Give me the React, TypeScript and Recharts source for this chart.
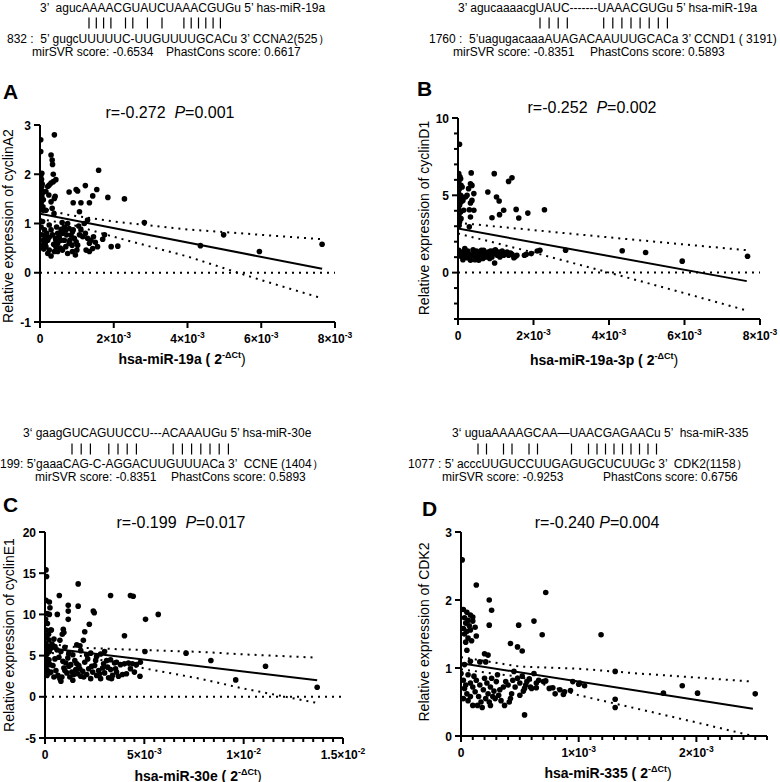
import React from 'react';
import { ScatterChart, Scatter, XAxis, YAxis, ReferenceLine } from 'recharts';

const FONT = '"Liberation Sans", Arial, Helvetica, sans-serif';

type P = [number, number];

// x values are in units of 10^-3

// ---- panel A: hsa-miR-19a vs cyclinA2
const aPoints: P[] = [
  [0.02, 2.7], [0.02, 2.46], [0.03, 1.85], [0.02, 1.78], [0.05, 1.75], [0.03, 1.68], [0.06, 1.61], [0.02, 1.51],
  [0.04, 1.44], [0.03, 1.37], [0.06, 1.8], [0.04, 1.9], [0.02, 1.97], [0.05, 1.54], [0.07, 1.65], [0.05, 2.02], [0.07, 1.27],
  [0.39, 2.8], [0.3, 2.39], [0.33, 2.29], [0.34, 2.2], [0.36, 2.0], [0.43, 1.89], [0.25, 1.78], [0.3, 1.82], [0.36, 1.85],
  [0.21, 1.75], [0.16, 1.65], [0.24, 1.58], [0.39, 1.51], [0.3, 1.44], [0.09, 1.48], [0.08, 1.34], [0.16, 1.27], [0.33, 1.31],
  [0.41, 1.55], [0.38, 1.2],
  [1.59, 2.08], [0.79, 1.64], [0.98, 1.69], [1.02, 1.66], [1.23, 1.77], [1.54, 1.69], [1.43, 1.56], [1.84, 1.53], [2.29, 1.5],
  [0.9, 1.42], [1.11, 1.42], [1.34, 1.42], [1.07, 1.24], [1.29, 1.07], [2.83, 1.02],
  [0.07, 1.04], [0.03, 0.93], [0.12, 0.87], [0.05, 0.77], [0.14, 0.73], [0.09, 0.66], [0.03, 0.56], [0.16, 0.53], [0.25, 0.46],
  [0.21, 0.39], [0.3, 0.34], [0.39, 0.43], [0.43, 0.53], [0.48, 0.6], [0.52, 0.72], [0.57, 0.66], [0.61, 0.8], [0.66, 0.93],
  [0.7, 0.87], [0.75, 1.0], [0.79, 0.9], [0.84, 0.76], [0.88, 0.83], [0.93, 0.7], [0.98, 0.63], [1.02, 0.56], [1.07, 0.77],
  [0.96, 0.36], [0.7, 0.53], [0.61, 0.46], [0.52, 0.49], [0.43, 0.66], [0.34, 0.77], [0.3, 0.87], [0.25, 0.97], [0.45, 0.93],
  [0.57, 0.88], [0.72, 0.77], [0.81, 0.66], [0.87, 0.56], [1.16, 0.73], [1.23, 0.8], [1.29, 0.7], [1.34, 0.6], [1.38, 0.66],
  [1.45, 0.73], [1.5, 0.62], [1.56, 0.53], [1.43, 0.49], [1.7, 0.68], [1.75, 0.77], [1.93, 0.53], [2.11, 0.54], [1.11, 0.87],
  [1.05, 0.95], [1.25, 0.46], [1.34, 0.43], [0.88, 0.43], [0.75, 0.39], [0.48, 0.43], [0.37, 0.58], [0.21, 0.66], [0.14, 0.6],
  [0.25, 0.72], [0.66, 0.66], [0.79, 0.6], [0.9, 0.87], [0.48, 0.8], [0.42, 0.7], [0.1, 0.48], [0.18, 0.8], [0.6, 1.02],
  [1.2, 1.0], [0.55, 0.5], [1.0, 0.46],
  [4.35, 0.55], [4.98, 0.77], [5.95, 0.43], [7.65, 0.58],
];
const aFit: P[] = [[0, 1.2], [7.65, 0.08]];
const aUpper: P[] = [[0, 1.31], [0.8, 1.17], [2, 1.04], [4, 0.88], [6, 0.77], [7.65, 0.68]];
const aLower: P[] = [[0, 1.09], [0.8, 0.99], [2, 0.73], [4, 0.33], [6, -0.15], [7.65, -0.52]];

// ---- panel B: hsa-miR-19a-3p vs cyclinD1
const bPoints: P[] = [
  [0.04, 8.3], [0.02, 6.4], [0.07, 6.07], [0.02, 5.86], [0.08, 5.64], [0.04, 5.43], [0.01, 5.21], [0.07, 5.0], [0.02, 4.78],
  [0.08, 4.57], [0.04, 4.35], [0.01, 4.14], [0.07, 3.92], [0.02, 3.71], [0.08, 3.49], [0.04, 3.28], [0.11, 4.89], [0.13, 4.67],
  [0.11, 5.54], [0.15, 4.03], [0.03, 3.05], [0.05, 6.2],
  [0.35, 6.45], [0.33, 5.75], [0.37, 5.64], [0.28, 5.43], [0.24, 5.0], [0.42, 5.11], [0.2, 4.89], [0.37, 4.67], [0.33, 4.5],
  [0.3, 4.07], [0.42, 4.03], [0.33, 3.6], [0.3, 2.96],
  [0.96, 6.4], [1.34, 5.9], [1.43, 6.13], [0.79, 5.21], [1.02, 4.89], [1.09, 4.63], [1.21, 4.03], [1.1, 3.75], [0.9, 3.55],
  [1.54, 4.09], [1.61, 3.53], [1.85, 3.85], [2.29, 4.07],
  [0.02, 1.44], [0.07, 1.23], [0.11, 1.33], [0.15, 1.12], [0.2, 1.33], [0.24, 0.96], [0.28, 1.23], [0.33, 0.8], [0.37, 1.12],
  [0.42, 1.33], [0.46, 1.01], [0.5, 1.23], [0.55, 0.8], [0.59, 1.33], [0.64, 1.12], [0.68, 1.44], [0.73, 1.01], [0.77, 1.27],
  [0.81, 1.12], [0.86, 1.4], [0.9, 1.01], [0.95, 1.23], [0.97, 0.62], [0.99, 1.48], [1.04, 1.12], [1.08, 1.33], [1.12, 1.18],
  [1.17, 1.4], [1.21, 1.12], [1.26, 1.27], [1.34, 1.12], [1.43, 1.18], [1.52, 1.05], [1.56, 1.12], [1.76, 1.12], [1.81, 1.18],
  [1.94, 1.23], [2.1, 1.4], [2.17, 1.44],
  [0.08, 1.06], [0.18, 1.55], [0.26, 1.4], [0.31, 1.01], [0.4, 1.48], [0.45, 0.84], [0.49, 1.4], [0.52, 0.98], [0.58, 1.18],
  [0.62, 1.44], [0.66, 0.91], [0.71, 1.27], [0.75, 1.05], [0.8, 1.33], [0.84, 0.91], [0.88, 1.23], [0.93, 1.4], [1.02, 1.27],
  [1.11, 1.01], [1.19, 1.27], [1.3, 1.33], [1.39, 1.27], [1.48, 0.96], [0.13, 0.84], [0.22, 1.18],
  [2.85, 1.45], [4.35, 1.41], [4.97, 1.3], [5.94, 0.74], [7.67, 1.06],
];
const bFit: P[] = [[0, 2.85], [7.65, -0.55]];
const bUpper: P[] = [[0, 3.22], [2, 2.75], [4, 2.28], [6, 1.82], [7.65, 1.45]];
const bLower: P[] = [[0, 2.53], [2, 1.3], [4, 0.0], [6, -1.33], [7.65, -2.45]];

// ---- panel C: hsa-miR-30e vs cyclinE1
const cPoints: P[] = [
  [0.05, 15.4], [0.08, 14.6], [0.05, 11.7], [0.22, 11.5], [0.25, 10.8], [0.1, 10.1], [0.03, 9.4], [0.12, 8.9], [0.05, 8.1],
  [0.18, 7.6], [0.08, 7.2], [0.2, 6.9], [0.02, 6.5], [0.12, 6.2], [0.06, 5.8], [0.22, 5.5], [0.1, 5.2], [0.03, 4.9],
  [0.15, 4.5], [0.08, 4.2], [0.25, 3.9], [0.05, 3.6], [0.12, 3.2], [0.2, 2.9], [0.1, 2.6], [0.22, 10.0], [0.28, 8.1],
  [0.32, 8.1], [0.35, 6.4], [0.45, 7.0],
  [0.72, 12.3], [1.67, 13.7], [1.17, 11.1], [1.67, 11.0], [1.17, 10.4], [1.17, 9.4], [0.62, 10.0], [2.43, 10.4], [2.48, 10.2],
  [3.3, 12.3], [4.3, 12.3], [4.44, 12.2], [5.7, 10.0], [5.06, 9.4], [2.23, 8.8], [2.0, 7.9], [0.92, 8.2], [0.95, 7.8],
  [0.87, 7.6], [4.0, 7.4], [1.93, 6.85], [0.75, 6.85], [1.76, 6.2],
  [0.3, 5.9], [0.5, 6.1], [0.6, 5.7], [0.8, 5.5], [1.0, 6.0], [1.2, 5.3], [1.4, 5.1], [1.6, 6.3], [1.8, 5.6], [2.1, 5.1],
  [2.3, 5.3], [2.6, 4.9], [3.0, 5.5], [2.8, 5.2], [3.3, 4.5], [3.6, 4.2], [4.0, 4.0], [4.4, 4.0], [4.8, 4.2], [5.03, 5.5], [7.1, 5.3],
  [0.2, 4.5], [0.4, 3.8], [0.55, 3.2], [0.65, 2.6], [0.75, 2.2], [0.8, 1.9], [0.85, 2.4], [0.95, 3.5], [1.05, 4.1], [1.1, 2.9],
  [1.2, 3.7], [1.25, 2.4], [1.35, 3.0], [1.4, 2.0], [1.5, 4.4], [1.55, 3.3], [1.65, 2.8], [1.7, 3.8], [1.8, 2.5], [1.9, 3.1],
  [2.0, 4.2], [2.1, 2.7], [2.2, 3.4], [2.3, 2.2], [2.4, 3.0], [2.5, 3.8], [2.6, 2.6], [2.7, 3.2], [2.8, 2.2], [2.9, 3.5],
  [3.0, 2.9], [3.1, 4.4], [3.2, 2.3], [3.3, 3.3], [3.4, 2.6], [3.5, 4.1], [3.6, 3.0], [3.7, 2.5], [3.8, 3.9], [3.9, 2.7],
  [4.1, 2.8], [4.3, 3.4], [4.5, 3.0], [4.6, 3.9], [4.78, 2.5], [0.3, 3.0], [0.45, 2.4], [0.5, 4.6], [0.7, 4.8], [0.9, 4.3],
  [1.0, 3.2], [1.15, 4.7], [1.3, 3.9], [1.45, 2.7], [1.6, 4.0], [1.75, 3.4], [1.95, 2.4], [2.15, 4.6], [2.35, 3.7], [2.55, 4.4],
  [2.75, 2.8], [2.95, 4.0], [3.15, 3.6], [3.35, 2.2], [3.55, 3.4], [4.2, 4.1],
  [8.35, 4.4], [11.1, 3.7], [9.6, 2.05], [13.7, 1.15],
];
const cFit: P[] = [[0, 5.95], [13.7, 2.0]];
const cUpper: P[] = [[0, 6.5], [1.8, 5.95], [4, 5.75], [7.8, 5.45], [10, 5.15], [13.7, 4.75]];
const cLower: P[] = [[0, 5.4], [1.8, 4.95], [4, 3.9], [7.8, 2.2], [10, 1.0], [13.7, -0.75]];

// ---- panel D: hsa-miR-335 vs CDK2
const dPoints: P[] = [
  [0.01, 2.59], [0.13, 2.22], [0.24, 2.0], [0.26, 1.85], [0.24, 1.63], [0.72, 2.11], [0.62, 1.69], [0.49, 1.63], [0.69, 1.49],
  [1.19, 1.49], [0.13, 1.47], [0.42, 1.36], [0.48, 1.31], [0.52, 1.25], [0.2, 1.21], [0.23, 1.19], [0.16, 1.09], [0.21, 1.09],
  [0.02, 1.86], [0.05, 1.82], [0.08, 1.78], [0.03, 1.74], [0.06, 1.7], [0.1, 1.69], [0.04, 1.66], [0.07, 1.62], [0.02, 1.58],
  [0.08, 1.56], [0.05, 1.54], [0.03, 1.5], [0.06, 1.44], [0.09, 1.4], [0.04, 1.38], [0.05, 1.26], [0.08, 1.1], [0.03, 1.05],
  [0.1, 1.75], [0.12, 1.6],
  [0.0, 0.92], [0.02, 0.82], [0.04, 0.75], [0.03, 0.7], [0.05, 0.62], [0.02, 0.55], [0.06, 0.52], [0.08, 0.78], [0.1, 0.72],
  [0.1, 0.45], [0.12, 0.65], [0.13, 0.82], [0.14, 0.45], [0.15, 0.58], [0.16, 0.75], [0.18, 0.42], [0.19, 0.68], [0.2, 0.85],
  [0.21, 0.55], [0.22, 0.78], [0.23, 0.62], [0.24, 0.5], [0.25, 0.72], [0.26, 0.85], [0.27, 0.58], [0.28, 0.66], [0.29, 0.55],
  [0.3, 0.8], [0.31, 0.9], [0.32, 0.6], [0.34, 0.52], [0.36, 0.72], [0.38, 0.8], [0.4, 0.75], [0.41, 0.5], [0.42, 0.55],
  [0.43, 0.62], [0.45, 0.95], [0.46, 0.72], [0.48, 0.85], [0.5, 0.78], [0.52, 0.88], [0.53, 0.66], [0.54, 0.7], [0.56, 0.8],
  [0.58, 0.84], [0.6, 0.7], [0.62, 0.92], [0.64, 0.78], [0.66, 0.82], [0.7, 0.8], [0.75, 0.7], [0.8, 0.62], [0.84, 0.68],
  [0.88, 0.65], [0.95, 0.8], [1.0, 0.76], [0.06, 0.9], [0.08, 0.58], [0.11, 0.88], [0.17, 0.5], [0.25, 0.45], [0.33, 0.68],
  [0.37, 0.45], [0.44, 0.82], [0.5, 0.6], [0.55, 0.75], [0.59, 0.72],
  [0.54, 0.31], [0.64, 0.71], [0.72, 0.81], [0.78, 0.71], [0.87, 0.61], [0.93, 0.67], [1.01, 0.78], [1.05, 0.74],
  [1.31, 0.95], [1.31, 0.54], [1.31, 0.42], [1.72, 0.63], [1.88, 0.74], [2.01, 0.63], [2.5, 0.62],
];
const dFit: P[] = [[0, 1.07], [2.48, 0.4]];
const dUpper: P[] = [[0, 1.16], [0.5, 1.02], [1, 0.99], [1.5, 0.92], [2, 0.86], [2.48, 0.8]];
const dLower: P[] = [[0, 0.98], [0.5, 0.87], [1, 0.6], [1.5, 0.4], [2, 0.2], [2.48, 0.0]];

// ---- ticks
const abXTicks = [0, 2, 4, 6, 8];
const abXLabels = ['0', '2×10^-3', '4×10^-3', '6×10^-3', '8×10^-3'];
const aYTicks = [-1, 0, 1, 2, 3];
const aYLabels = ['-1', '0', '1', '2', '3'];
const bYTicks = [-3, -2, -1, 0, 1, 2, 3, 4, 5, 6, 7, 8, 9, 10];
const bYMajor = [0, 5, 10];
const bYLabels = ['0', '5', '10'];
const cXTicks = [0, 0.5, 1, 1.5, 2, 2.5, 3, 3.5, 4, 4.5, 5, 5.5, 6, 6.5, 7, 7.5, 8, 8.5, 9, 9.5, 10, 10.5, 11, 11.5, 12, 12.5, 13, 13.5, 14, 14.5, 15];
const cXMajor = [0, 5, 10, 15];
const cXLabels = ['0', '5×10^-3', '1×10^-2', '1.5×10^-2'];
const cYTicks = [-5, 0, 5, 10, 15, 20];
const cYLabels = ['-5', '0', '5', '10', '15', '20'];
const dXTicks = [0, 0.1, 0.2, 0.3, 0.4, 0.5, 0.6, 0.7, 0.8, 0.9, 1, 1.1, 1.2, 1.3, 1.4, 1.5, 1.6, 1.7, 1.8, 1.9, 2, 2.1, 2.2, 2.3, 2.4, 2.5, 2.6];
const dXMajor = [0, 1, 2];
const dXLabels = ['0', '1×10^-3', '2×10^-3'];
const dYTicks = [0, 1, 2, 3];
const dYLabels = ['0', '1', '2', '3'];

const toXY = (pts: P[]) => pts.map(([x, y]) => ({ x, y }));
const findMajor = (major: number[], v: number) => major.findIndex((m) => Math.abs(m - v) < 1e-6);

function TickText({ x, y, text, anchor }: { x: number; y: number; text: string; anchor: 'start' | 'middle' | 'end' }) {
  const [base, exp] = text.split('^');
  return (
    <text x={x} y={y} textAnchor={anchor} fontSize={12} fontFamily={FONT} fill="#000" style={{ fontWeight: 700 }}>
      {base}
      {exp && <tspan dy={-5} fontSize={8.5}>{exp}</tspan>}
    </text>
  );
}

const dot = (props: any) => <circle cx={props.cx} cy={props.cy} r={2.8} fill="#000" />;
const blank = () => <g />;

interface PanelProps {
  plot: { left: number; top: number; right: number; bottom: number };
  xDomain: [number, number];
  yDomain: [number, number];
  xTicks: number[];
  xMajor: number[];
  xLabels: string[];
  yTicks: number[];
  yMajor: number[];
  yLabels: string[];
  points: P[];
  fit: P[];
  upper: P[];
  lower: P[];
  zeroLine: boolean;
}

function Panel(p: PanelProps) {
  const yw = 40, xh = 30, mt = 10, mr = 30;
  const width = p.plot.right - p.plot.left + yw + mr;
  const height = p.plot.bottom - p.plot.top + mt + xh;
  const axisLine = { stroke: '#000', strokeWidth: 2 };
  const dotted = { stroke: '#000', strokeWidth: 2, strokeDasharray: '2 5' };

  const xTick = (props: any) => {
    const { x, y, payload } = props;
    const i = findMajor(p.xMajor, payload.value);
    const len = i >= 0 ? 6 : 4;
    return (
      <g>
        <line x1={x} x2={x} y1={y} y2={y + len} stroke="#000" strokeWidth={2} />
        {i >= 0 && <TickText x={x} y={y + 21} text={p.xLabels[i]} anchor="middle" />}
      </g>
    );
  };
  const yTick = (props: any) => {
    const { x, y, payload } = props;
    const i = findMajor(p.yMajor, payload.value);
    const len = i >= 0 ? 6 : 4;
    return (
      <g>
        <line x1={x - len} x2={x} y1={y} y2={y} stroke="#000" strokeWidth={2} />
        {i >= 0 && <TickText x={x - 9} y={y + 4.5} text={p.yLabels[i]} anchor="end" />}
      </g>
    );
  };

  return (
    <div style={{ position: 'absolute', left: p.plot.left - yw, top: p.plot.top - mt }}>
      <ScatterChart width={width} height={height} margin={{ top: mt, right: mr, bottom: 0, left: 0 }}>
        <XAxis
          type="number"
          dataKey="x"
          domain={p.xDomain}
          ticks={p.xTicks}
          interval={0}
          allowDataOverflow
          height={xh}
          tickSize={0}
          tickMargin={0}
          tickLine={false}
          axisLine={axisLine}
          tick={xTick}
        />
        <YAxis
          type="number"
          dataKey="y"
          domain={p.yDomain}
          ticks={p.yTicks}
          interval={0}
          allowDataOverflow
          width={yw}
          tickSize={0}
          tickMargin={0}
          tickLine={false}
          axisLine={axisLine}
          tick={yTick}
        />
        {p.zeroLine && <ReferenceLine y={0} stroke="#000" strokeWidth={2} strokeDasharray="2 5" />}
        <Scatter data={toXY(p.points)} fill="#000" shape={dot} isAnimationActive={false} />
        <Scatter data={toXY(p.upper)} fill="#000" line={dotted} shape={blank} isAnimationActive={false} />
        <Scatter data={toXY(p.lower)} fill="#000" line={dotted} shape={blank} isAnimationActive={false} />
        <Scatter data={toXY(p.fit)} fill="#000" line={{ stroke: '#000', strokeWidth: 2 }} shape={blank} isAnimationActive={false} />
      </ScatterChart>
    </div>
  );
}

// header text lines: [text, left, centre y]
type Line = [string, number, number];

const headerLines: Line[] = [
  ['3’  agucAAAACGUAUCUAAACGUGu 5’ has-miR-19a', 40, 8],
  ['832 :  5’ gugcUUUUUC-UUGUUUUGCACu 3’ CCNA2(525）', 7, 39],
  ['mirSVR score: -0.6534', 32, 52],
  ['PhastCons score: 0.6617', 166, 52],
  ['3’ agucaaaacgUAUC-------UAAACGUGu 5’ hsa-miR-19a', 458, 8],
  ['1760 :  5’uagugacaaaAUAGACAAUUUGCACa 3’ CCND1 ( 3191)', 429, 39],
  ['mirSVR score: -0.8351', 453, 52],
  ['PhastCons score: 0.5893', 590, 52],
  ['3‘ gaagGUCAGUUCCU---ACAAAUGu 5’ hsa-miR-30e', 23, 433],
  ['199: 5’gaaaCAG-C-AGGACUUGUUUACa 3’  CCNE (1404）', 0, 464],
  ['mirSVR score: -0.8351', 35, 477],
  ['PhastCons score: 0.5893', 171, 477],
  ['3‘ uguaAAAAGCAA—UAACGAGAACu 5’  hsa-miR-335', 452, 433],
  ['1077 : 5’ acccUUGUCCUUGAGUGCUCUUGc 3’  CDK2(1158）', 408, 464],
  ['mirSVR score: -0.9253', 442, 477],
  ['PhastCons score: 0.6756', 603, 477],
];

// pairing bars: [pattern, left, slot width, centre y]
const pairBars: [string, number, number, number][] = [
  ['|||| || | |  ||||||', 89, 7.3, 23],
  ['||||   ||||||||', 540, 9.1, 23],
  ['||| ||||   |||||||', 72, 9.2, 449],
  ['|| || ||   | |||||||||', 478, 8.5, 449],
];

function Headers() {
  return (
    <>
      {headerLines.map(([t, x, y], i) => (
        <div key={i} style={{ position: 'absolute', left: x, top: y, transform: 'translateY(-50%)', fontSize: 12, lineHeight: 1, whiteSpace: 'pre' }}>
          {t}
        </div>
      ))}
      <svg width={780} height={782} style={{ position: 'absolute', left: 0, top: 0, pointerEvents: 'none' }}>
        {pairBars.map(([pat, x0, slot, y], i) => (
          <g key={i}>
            {pat.split('').map((c, j) =>
              c === '|' ? <line key={j} x1={x0 + j * slot} x2={x0 + j * slot} y1={y - 5.5} y2={y + 5.5} stroke="#000" strokeWidth={1.2} /> : null
            )}
          </g>
        ))}
      </svg>
    </>
  );
}

const centered = (cx: number, cy: number, extra: React.CSSProperties = {}): React.CSSProperties => ({
  position: 'absolute',
  left: cx,
  top: cy,
  transform: 'translate(-50%, -50%)',
  whiteSpace: 'nowrap',
  lineHeight: 1,
  ...extra,
});

function Titles(t: { letter: string; lx: number; ly: number; r: string; pval: string; gap: string; rx: number; ry: number; yTitle: string; ytx: number; yty: number; xTitle: string; xtx: number; xty: number }) {
  return (
    <>
      <div style={{ position: 'absolute', left: t.lx, top: t.ly, transform: 'translateY(-50%)', fontSize: 21, fontWeight: 'bold', lineHeight: 1 }}>{t.letter}</div>
      <div style={centered(t.rx, t.ry, { fontSize: 16, whiteSpace: 'pre' })}>
        {t.r}{t.gap}<i>P</i>={t.pval}
      </div>
      <div style={{ ...centered(t.ytx, t.yty, { fontSize: 14 }), transform: 'translate(-50%, -50%) rotate(-90deg)' }}>{t.yTitle}</div>
      <div style={centered(t.xtx, t.xty, { fontSize: 14, fontWeight: 'bold', whiteSpace: 'pre' })}>
        {t.xTitle} ( 2<sup style={{ fontSize: 9, verticalAlign: 6 }}>-ΔCt</sup><span style={{ fontWeight: 'normal' }}>)</span>
      </div>
    </>
  );
}

export default function App() {
  return (
    <div style={{ position: 'absolute', left: 0, top: 0, width: 780, height: 782, background: '#fff', color: '#000', fontFamily: FONT, overflow: 'hidden' }}>
      <style>{'.recharts-surface{overflow:visible}'}</style>

      <Headers />

      <Panel plot={{ left: 40, top: 125, right: 335, bottom: 322 }} xDomain={[0, 8]} yDomain={[-1, 3]}
        xTicks={abXTicks} xMajor={abXTicks} xLabels={abXLabels}
        yTicks={aYTicks} yMajor={aYTicks} yLabels={aYLabels}
        points={aPoints} fit={aFit} upper={aUpper} lower={aLower} zeroLine />
      <Panel plot={{ left: 458, top: 118, right: 760, bottom: 319 }} xDomain={[0, 8]} yDomain={[-3, 10]}
        xTicks={abXTicks} xMajor={abXTicks} xLabels={abXLabels}
        yTicks={bYTicks} yMajor={bYMajor} yLabels={bYLabels}
        points={bPoints} fit={bFit} upper={bUpper} lower={bLower} zeroLine />
      <Panel plot={{ left: 45, top: 532, right: 343, bottom: 738 }} xDomain={[0, 15]} yDomain={[-5, 20]}
        xTicks={cXTicks} xMajor={cXMajor} xLabels={cXLabels}
        yTicks={cYTicks} yMajor={cYTicks} yLabels={cYLabels}
        points={cPoints} fit={cFit} upper={cUpper} lower={cLower} zeroLine />
      <Panel plot={{ left: 461, top: 532, right: 767, bottom: 736 }} xDomain={[0, 2.6]} yDomain={[0, 3]}
        xTicks={dXTicks} xMajor={dXMajor} xLabels={dXLabels}
        yTicks={dYTicks} yMajor={dYTicks} yLabels={dYLabels}
        points={dPoints} fit={dFit} upper={dUpper} lower={dLower} zeroLine={false} />

      <Titles letter="A" lx={3} ly={91} r="r=-0.272" gap="  " pval="0.001" rx={170} ry={113}
        yTitle="Relative expression of cyclinA2" ytx={8} yty={226} xTitle="hsa-miR-19a" xtx={182} xty={358} />
      <Titles letter="B" lx={417} ly={88} r="r=-0.252" gap="  " pval="0.002" rx={592} ry={108}
        yTitle="Relative expression of cyclinD1" ytx={424} yty={218} xTitle="hsa-miR-19a-3p" xtx={604} xty={359} />
      <Titles letter="C" lx={3} ly={504} r="r=-0.199" gap="  " pval="0.017" rx={181} ry={523}
        yTitle="Relative expression of cyclinE1" ytx={9} yty={635} xTitle="hsa-miR-30e" xtx={198} xty={775} />
      <Titles letter="D" lx={422} ly={508} r="r=-0.240" gap=" " pval="0.004" rx={597} ry={523}
        yTitle="Relative expression of CDK2" ytx={424} yty={632} xTitle="hsa-miR-335" xtx={608} xty={772} />
    </div>
  );
}
